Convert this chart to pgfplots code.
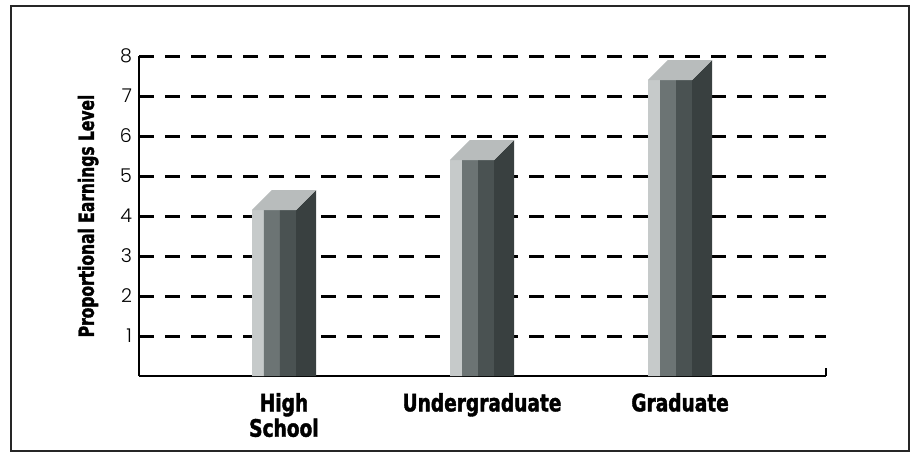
\documentclass[border=0pt]{standalone}
\usepackage{pgfplots}
\pgfplotsset{compat=1.18}
\usepackage{pgfplotstable}
\usepackage{fontspec}
\setmainfont{DejaVu Sans}
\newfontfamily\condfont{DejaVu Sans Condensed}[BoldFeatures={FakeBold=1.6}]
\newfontfamily\ylabfont{DejaVu Sans Condensed}[BoldFeatures={FakeBold=1.6, FakeStretch=0.82}]
\newfontfamily\xlabfont{DejaVu Sans Condensed}[BoldFeatures={FakeBold=1.6, FakeStretch=0.86}]
\newfontfamily\tickfont{Poppins}[UprightFont=* Light]
\definecolor{barlight}{HTML}{C6CACA}
\definecolor{barmid}{HTML}{6C7474}
\definecolor{bardark}{HTML}{4A5252}
\definecolor{barside}{HTML}{394040}
\definecolor{bartop}{HTML}{B8BCBC}
\pgfplotstableread{
x v
0 4.15
1 5.40
2 7.40
}\earn
\begin{document}
\begin{tikzpicture}[x=1pt,y=1pt]
\useasboundingbox (0,0) rectangle (459.5,-228);
\draw[line width=1.4pt, black!85] (5.5,-3) rectangle (454.5,-225.5);
\begin{axis}[
  at={(69.5pt,-188pt)}, anchor=south west,
  scale only axis, width=343.5pt, height=160pt,
  xmin=-0.732, xmax=2.737, ymin=0, ymax=8,
  axis x line=bottom, axis y line=left,
  axis line style={-, line width=1pt, black},
  xtick={0,1,2},
  xticklabels={High\\School, Undergraduate, Graduate},
  xticklabel style={align=center, font=\xlabfont\bfseries\fontsize{12}{11}\selectfont, yshift=-5pt},
  ytick={1,2,3,4,5,6,7,8},
  yticklabel style={font=\tickfont\fontsize{9.5}{11}\selectfont},
  /pgf/number format/assume math mode=true,
  major tick length=0pt,
  ymajorgrids,
  grid style={black, line width=1.5pt, dash pattern=on 7.5pt off 5.5pt},
  ylabel={Proportional Earnings Level},
  ylabel style={at={(axis description cs:-0.074,0.5)}, anchor=center, font=\ylabfont\bfseries\fontsize{10.5}{12}\selectfont},
  extra x ticks={2.737}, extra x tick labels={},
  extra x tick style={grid=none, major tick length=4pt, tick align=inside, tick style={black, line width=1pt}},
  clip=false,
]
% front face strips
\addplot[ybar, bar width=0.0606, bar shift=-0.131, fill=barlight, draw=none] table[x=x,y=v]{\earn};
\addplot[ybar, bar width=0.0808, bar shift=-0.0606, fill=barmid, draw=none] table[x=x,y=v]{\earn};
\addplot[ybar, bar width=0.0808, bar shift=0.0202, fill=bardark, draw=none] table[x=x,y=v]{\earn};
% side faces
\addplot[fill=barside, draw=none] coordinates {(0.061,4.15) (0.162,4.65)} \closedcycle;
\addplot[fill=barside, draw=none] coordinates {(1.061,5.40) (1.162,5.90)} \closedcycle;
\addplot[fill=barside, draw=none] coordinates {(2.061,7.40) (2.162,7.90)} \closedcycle;
% top faces
\addplot[fill=bartop, draw=none] coordinates {(-0.162,4.15) (-0.061,4.65) (0.162,4.65) (0.061,4.15)} -- cycle;
\addplot[fill=bartop, draw=none] coordinates {(0.838,5.40) (0.939,5.90) (1.162,5.90) (1.061,5.40)} -- cycle;
\addplot[fill=bartop, draw=none] coordinates {(1.838,7.40) (1.939,7.90) (2.162,7.90) (2.061,7.40)} -- cycle;
\end{axis}
\end{tikzpicture}
\end{document}
